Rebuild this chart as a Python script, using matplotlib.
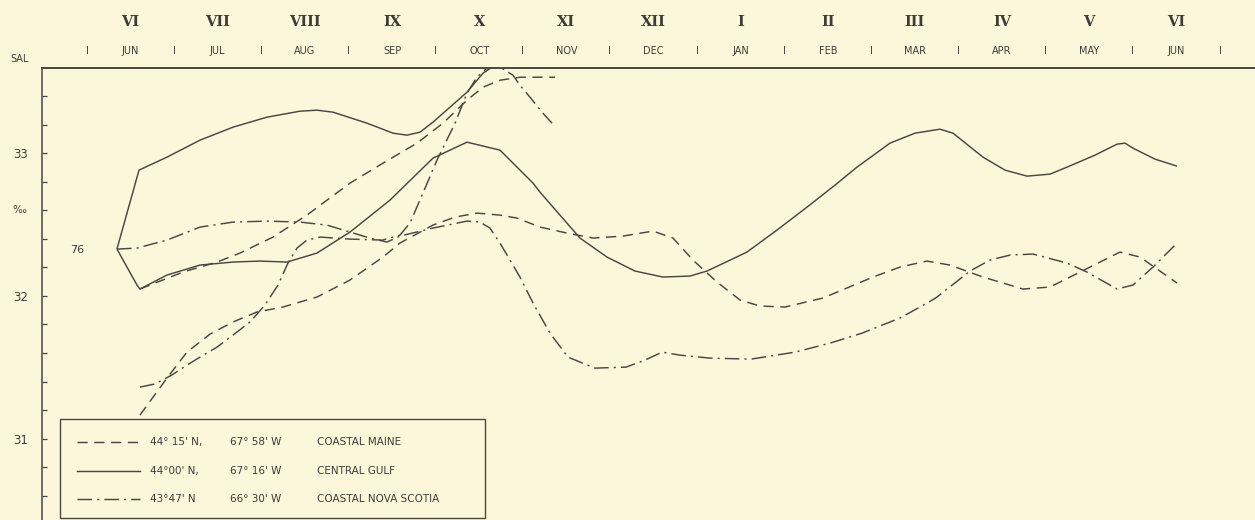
import numpy as np
import matplotlib
matplotlib.use("Agg")
import matplotlib.pyplot as plt
import matplotlib.transforms as mtransforms
from matplotlib.patches import Rectangle
from matplotlib.lines import Line2D

# ---------------- data (x = months since 1 June, y = salinity ‰) ----------------
month_labels = ["JUN", "JUL", "AUG", "SEP", "OCT", "NOV", "DEC",
                "JAN", "FEB", "MAR", "APR", "MAY", "JUN"]
roman_labels = ["VI", "VII", "VIII", "IX", "X", "XI", "XII",
                "I", "II", "III", "IV", "V", "VI"]
y_major = [31, 32, 33]

start_x = 0.344   # point labelled "76"
start_y = 32.328

# Central Gulf (solid), upper curve
gulf_a_x = [0.344, 0.597, 0.918, 1.297, 1.675, 2.065, 2.444, 2.639, 2.823, 3.213,
            3.511, 3.672, 3.821, 3.970, 4.165, 4.360, 4.544, 4.647]
gulf_a_y = [32.328, 32.881, 32.972, 33.091, 33.182, 33.252, 33.294, 33.301, 33.287, 33.210,
            33.140, 33.126, 33.147, 33.217, 33.322, 33.427, 33.560, 33.602]

# Central Gulf (solid), lower curve
gulf_b_x = [0.344, 0.574, 0.608, 0.918, 1.297, 1.675, 1.985, 2.295, 2.639, 3.018,
            3.477, 3.970, 4.360, 4.739, 5.118, 5.198, 5.427, 5.657, 5.967, 6.288,
            6.609, 6.919, 7.114, 7.573, 7.917, 8.262, 8.583, 8.835, 9.214, 9.501,
            9.788, 9.937, 10.281, 10.534, 10.786, 11.050, 11.245, 11.566, 11.819, 11.911,
            12.002, 12.255, 12.507]
gulf_b_y = [32.328, 32.076, 32.048, 32.146, 32.216, 32.237, 32.244, 32.237, 32.300, 32.447,
            32.671, 32.965, 33.077, 33.021, 32.790, 32.727, 32.566, 32.405, 32.272, 32.174,
            32.132, 32.139, 32.174, 32.307, 32.461, 32.622, 32.776, 32.902, 33.070, 33.140,
            33.168, 33.140, 32.972, 32.881, 32.839, 32.853, 32.902, 32.986, 33.063, 33.070,
            33.035, 32.958, 32.909]

# Coastal Maine (dashed), upper curve
maine_a_x = [0.608, 0.723, 1.102, 1.492, 1.756, 2.134, 2.524, 2.754, 3.018, 3.396,
             3.787, 4.085, 4.360, 4.544, 4.739, 4.968, 5.370]
maine_a_y = [32.048, 32.076, 32.167, 32.237, 32.300, 32.412, 32.566, 32.671, 32.790, 32.930,
             33.070, 33.210, 33.371, 33.462, 33.511, 33.532, 33.532]

# Coastal Maine (dashed), lower curve
maine_b_x = [0.608, 0.918, 1.147, 1.411, 1.675, 1.951, 2.249, 2.639, 3.018, 3.396,
             3.591, 3.970, 4.223, 4.475, 4.739, 4.934, 5.198, 5.508, 5.806, 6.150,
             6.495, 6.724, 6.953, 7.229, 7.493, 7.722, 8.009, 8.445, 9.019, 9.329,
             9.638, 9.902, 10.281, 10.740, 11.050, 11.509, 11.853, 12.083, 12.507]
maine_b_y = [31.165, 31.424, 31.606, 31.732, 31.817, 31.887, 31.922, 31.992, 32.111, 32.272,
             32.370, 32.496, 32.552, 32.580, 32.566, 32.545, 32.482, 32.440, 32.405, 32.419,
             32.454, 32.405, 32.251, 32.097, 31.971, 31.929, 31.922, 31.985, 32.132, 32.202,
             32.244, 32.216, 32.132, 32.048, 32.062, 32.202, 32.307, 32.272, 32.090]

# Coastal Nova Scotia (dash-dot), curve starting at "76"
scotia_a_x = [0.344, 0.574, 0.918, 1.297, 1.675, 2.065, 2.444, 2.754, 3.018, 3.247,
              3.442, 3.591, 3.970, 4.360, 4.509, 4.624, 4.739, 4.968, 5.118, 5.313,
              5.519, 5.829, 6.185, 6.403, 6.598, 6.804, 7.149, 7.619, 8.124, 8.526,
              8.893, 9.329, 9.661, 9.753, 10.132, 10.361, 10.591, 10.855, 11.245, 11.474,
              11.819, 12.002, 12.232, 12.507]
scotia_a_y = [32.328, 32.335, 32.391, 32.482, 32.517, 32.524, 32.517, 32.496, 32.447, 32.405,
              32.377, 32.419, 32.475, 32.524, 32.517, 32.475, 32.370, 32.132, 31.950, 31.739,
              31.571, 31.494, 31.501, 31.550, 31.606, 31.585, 31.564, 31.557, 31.606, 31.669,
              31.739, 31.845, 31.957, 31.992, 32.174, 32.251, 32.286, 32.293, 32.230, 32.167,
              32.048, 32.076, 32.202, 32.370]

# Coastal Nova Scotia (dash-dot), second curve
scotia_b_x = [0.608, 0.780, 0.975, 1.147, 1.297, 1.492, 1.675, 1.870, 2.042, 2.192,
              2.306, 2.410, 2.524, 2.674, 3.018, 3.396, 3.591, 3.706, 3.855, 4.016,
              4.223, 4.360, 4.475, 4.590, 4.739, 4.888, 4.968, 5.083, 5.221, 5.336]
scotia_b_y = [31.361, 31.383, 31.446, 31.515, 31.571, 31.641, 31.725, 31.817, 31.936, 32.076,
              32.230, 32.335, 32.391, 32.412, 32.398, 32.391, 32.426, 32.510, 32.720, 32.951,
              33.210, 33.420, 33.532, 33.595, 33.602, 33.546, 33.476, 33.392, 33.287, 33.210]

legend_lat = ["44° 15' N,", "44°00' N,", "43°47' N"]
legend_lon = ["67° 58' W", "67° 16' W", "66° 30' W"]
legend_names = ["COASTAL MAINE", "CENTRAL GULF", "COASTAL NOVA SCOTIA"]

# ---------------- styling ----------------
BG = "#FCF7DA"
INK = "#4A473F"
TXT = "#3E3C35"
LW = 1.05
DASHED = (0, (7.0, 4.5))
DASHDOT = (0, (10.0, 3.5, 1.4, 3.5))
SOLID = "-"
styles = [DASHED, SOLID, DASHDOT]

fig = plt.figure(figsize=(12.55, 5.2), dpi=100, facecolor=BG)
ax = fig.add_axes([42 / 1255, 0.0, 1213 / 1255, 452.5 / 520])
ax.set_facecolor(BG)
ax.set_xlim(-0.516, 13.402)
ax.set_ylim(30.43, 33.6)

for xs, ys, ls in [(gulf_a_x, gulf_a_y, SOLID), (gulf_b_x, gulf_b_y, SOLID),
                   (maine_a_x, maine_a_y, DASHED), (maine_b_x, maine_b_y, DASHED),
                   (scotia_a_x, scotia_a_y, DASHDOT), (scotia_b_x, scotia_b_y, DASHDOT)]:
    ax.plot(xs, ys, color=INK, lw=LW, linestyle=ls, solid_capstyle="butt",
            dash_capstyle="butt", solid_joinstyle="round")

# spines
for s in ["right", "bottom"]:
    ax.spines[s].set_visible(False)
ax.spines["left"].set_color(INK)
ax.spines["left"].set_linewidth(1.1)
ax.spines["top"].set_color(INK)
ax.spines["top"].set_linewidth(1.4)

# y ticks
ax.set_xticks([])
ax.set_yticks(y_major)
ax.set_yticklabels([str(v) for v in y_major])
ax.set_yticks([v for v in np.arange(30.6, 33.5, 0.2) if abs(v - round(v)) > 1e-6], minor=True)
ax.tick_params(axis="y", which="both", direction="in", length=3.5, width=0.9,
               color=INK, labelsize=8.5, labelcolor=TXT, pad=10)

# labels on the left
ax.annotate("SAL", xy=(0, 1), xycoords="axes fraction", xytext=(-16, 6),
            textcoords="offset points", ha="center", va="center", fontsize=7, color=TXT)
ax.annotate("‰", xy=(0, 32.6), xycoords=("axes fraction", "data"), xytext=(-16, 0),
            textcoords="offset points", ha="center", va="center", fontsize=7.5, color=TXT)
ax.annotate("76", xy=(start_x, start_y), xycoords="data", xytext=(-29, -1),
            textcoords="offset points", ha="center", va="center", fontsize=8, color=TXT)

# header: months, separators and roman numerals
trans = mtransforms.blended_transform_factory(ax.transData, ax.transAxes)
for i, (mname, rname) in enumerate(zip(month_labels, roman_labels)):
    ax.text(i + 0.5, 1.0365, mname, transform=trans, ha="center", va="center",
            fontsize=7, color=TXT, family="DejaVu Sans")
    ax.text(i + 0.5, 1.100, rname, transform=trans, ha="center", va="center",
            fontsize=10.5, color=TXT, family="DejaVu Serif", fontweight="bold")
for i in range(len(month_labels) + 1):
    ax.text(i, 1.0365, "I", transform=trans, ha="center", va="center",
            fontsize=7, color=TXT, family="DejaVu Sans")

# legend box
ax.add_patch(Rectangle((0.01484, 0.0044), 0.3504, 0.2188, transform=ax.transAxes,
                       facecolor=BG, edgecolor=INK, lw=1.0, zorder=5))
rows_y = [0.1724, 0.1083, 0.0464]
for ls, ry, la, lo, nm in zip(styles, rows_y, legend_lat, legend_lon, legend_names):
    ax.add_line(Line2D([0.0289, 0.0808], [ry, ry], transform=ax.transAxes, color=INK,
                       lw=LW, linestyle=ls, zorder=6))
    ax.text(0.0890, ry, la, transform=ax.transAxes, ha="left", va="center",
            fontsize=7.5, color=TXT, zorder=6)
    ax.text(0.1550, ry, lo, transform=ax.transAxes, ha="left", va="center",
            fontsize=7.5, color=TXT, zorder=6)
    ax.text(0.2267, ry, nm, transform=ax.transAxes, ha="left", va="center",
            fontsize=7.5, color=TXT, zorder=6)

fig.savefig("out.png", dpi=100, facecolor=BG)
